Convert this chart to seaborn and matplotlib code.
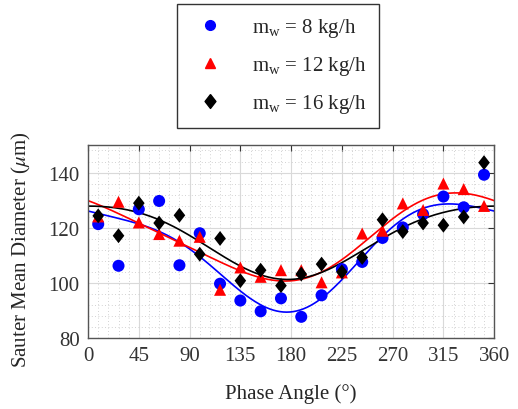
import numpy as np
import pandas as pd
import matplotlib
matplotlib.use('Agg')
import matplotlib.pyplot as plt
import seaborn as sns
from matplotlib.ticker import MultipleLocator
from matplotlib.lines import Line2D

# Data
angle = [9, 27, 45, 63, 81, 99, 117, 135, 153, 171,
         189, 207, 225, 243, 261, 279, 297, 315, 333, 351]
d_8 = [121.3, 106.2, 126.7, 129.7, 106.4, 118.0, 99.7, 93.6, 89.7, 94.4,
       87.7, 95.5, 105.0, 107.6, 116.3, 120.1, 124.9, 131.3, 127.4, 139.2]
d_12 = [124.1, 129.4, 121.9, 117.7, 115.3, 116.7, 97.5, 105.6, 102.2, 104.6,
        104.6, 100.2, 103.8, 117.9, 118.9, 128.8, 126.4, 136.0, 134.0, 127.9]
d_16 = [124.3, 117.1, 128.9, 121.7, 124.5, 110.4, 116.1, 100.8, 104.6, 99.0,
        103.2, 106.8, 104.0, 109.2, 122.9, 118.6, 121.7, 120.9, 123.9, 143.6]
labels = [r'$\mathregular{m_w}$ = 8 kg/h',
          r'$\mathregular{m_w}$ = 12 kg/h',
          r'$\mathregular{m_w}$ = 16 kg/h']
colors = ['#0000ff', '#ff0000', '#000000']
diamond = [(0, 1), (0.78, 0), (0, -1), (-0.78, 0), (0, 1)]
markers = ['o', '^', diamond]
marker_sizes = [75, 75, 115]

sns.set_style('white')
plt.rcParams['font.family'] = ['Liberation Serif', 'DejaVu Serif']
plt.rcParams['mathtext.fontset'] = 'stix'
plt.rcParams['font.size'] = 15

df = pd.DataFrame({
    'angle': angle * 3,
    'd': d_8 + d_12 + d_16,
    'case': [labels[0]] * 20 + [labels[1]] * 20 + [labels[2]] * 20,
})

# periodic least-squares fit (2 harmonics) of each series
def fourier_fit(x, y, xs, order=2):
    x = np.radians(x)
    xs = np.radians(xs)
    A = [np.ones_like(x)]
    B = [np.ones_like(xs)]
    for k in range(1, order + 1):
        A += [np.cos(k * x), np.sin(k * x)]
        B += [np.cos(k * xs), np.sin(k * xs)]
    c, *_ = np.linalg.lstsq(np.array(A).T, np.array(y), rcond=None)
    return np.array(B).T @ c

xs = np.linspace(0, 360, 361)
fit_df = pd.concat([
    pd.DataFrame({'angle': xs, 'd': fourier_fit(angle, d, xs), 'case': lab})
    for d, lab in zip([d_8, d_12, d_16], labels)
])

fig = plt.figure(figsize=(5.18, 4.10), dpi=100)
ax = fig.add_axes([0.170, 0.173, 0.784, 0.471])

sns.lineplot(data=fit_df, x='angle', y='d', hue='case', palette=colors,
             linewidth=1.2, legend=False, ax=ax)
sns.scatterplot(data=df, x='angle', y='d', hue='case', style='case',
                size='case', sizes=dict(zip(labels, marker_sizes)),
                palette=colors, markers=markers, edgecolor='none',
                legend=False, ax=ax, zorder=3)

ax.set_xlim(0, 360)
ax.set_ylim(80, 150)
ax.xaxis.set_major_locator(MultipleLocator(45))
ax.xaxis.set_minor_locator(MultipleLocator(9))
ax.yaxis.set_major_locator(MultipleLocator(20))
ax.yaxis.set_minor_locator(MultipleLocator(4))
ax.grid(which='major', color='#d9d9d9', linewidth=0.8)
ax.grid(which='minor', color='#c4c4c4', linestyle=(0, (1, 3)), linewidth=0.6)
ax.set_axisbelow(True)
ax.tick_params(which='major', direction='in', length=4, width=0.8,
               top=True, right=True, colors='#333333', labelsize=15, pad=6)
ax.tick_params(which='minor', length=0)
for sp in ax.spines.values():
    sp.set_color('#555555')
    sp.set_linewidth(1.0)

ax.set_xlabel('Phase Angle (°)', fontsize=15, color='#262626')
ax.set_ylabel(r'Sauter Mean Diameter ($\mu$m)', fontsize=15, color='#262626')
ax.xaxis.set_label_coords(0.5, -0.235)
ax.yaxis.set_label_coords(-0.135, 0.46)

handles = [Line2D([], [], linestyle='none', marker=m, color=c, markersize=ms)
           for m, c, ms in zip(markers, colors, [7, 7.5, 10])]
leg = fig.legend(handles, labels, loc='upper center',
                 bbox_to_anchor=(0.537, 0.988), frameon=True, fancybox=False,
                 fontsize=15, labelspacing=0.72, handletextpad=1.0,
                 borderpad=0.6, handlelength=2.0, borderaxespad=0)
leg.get_frame().set_edgecolor('#000000')
leg.get_frame().set_linewidth(1.0)

fig.savefig('out.png', dpi=100)
